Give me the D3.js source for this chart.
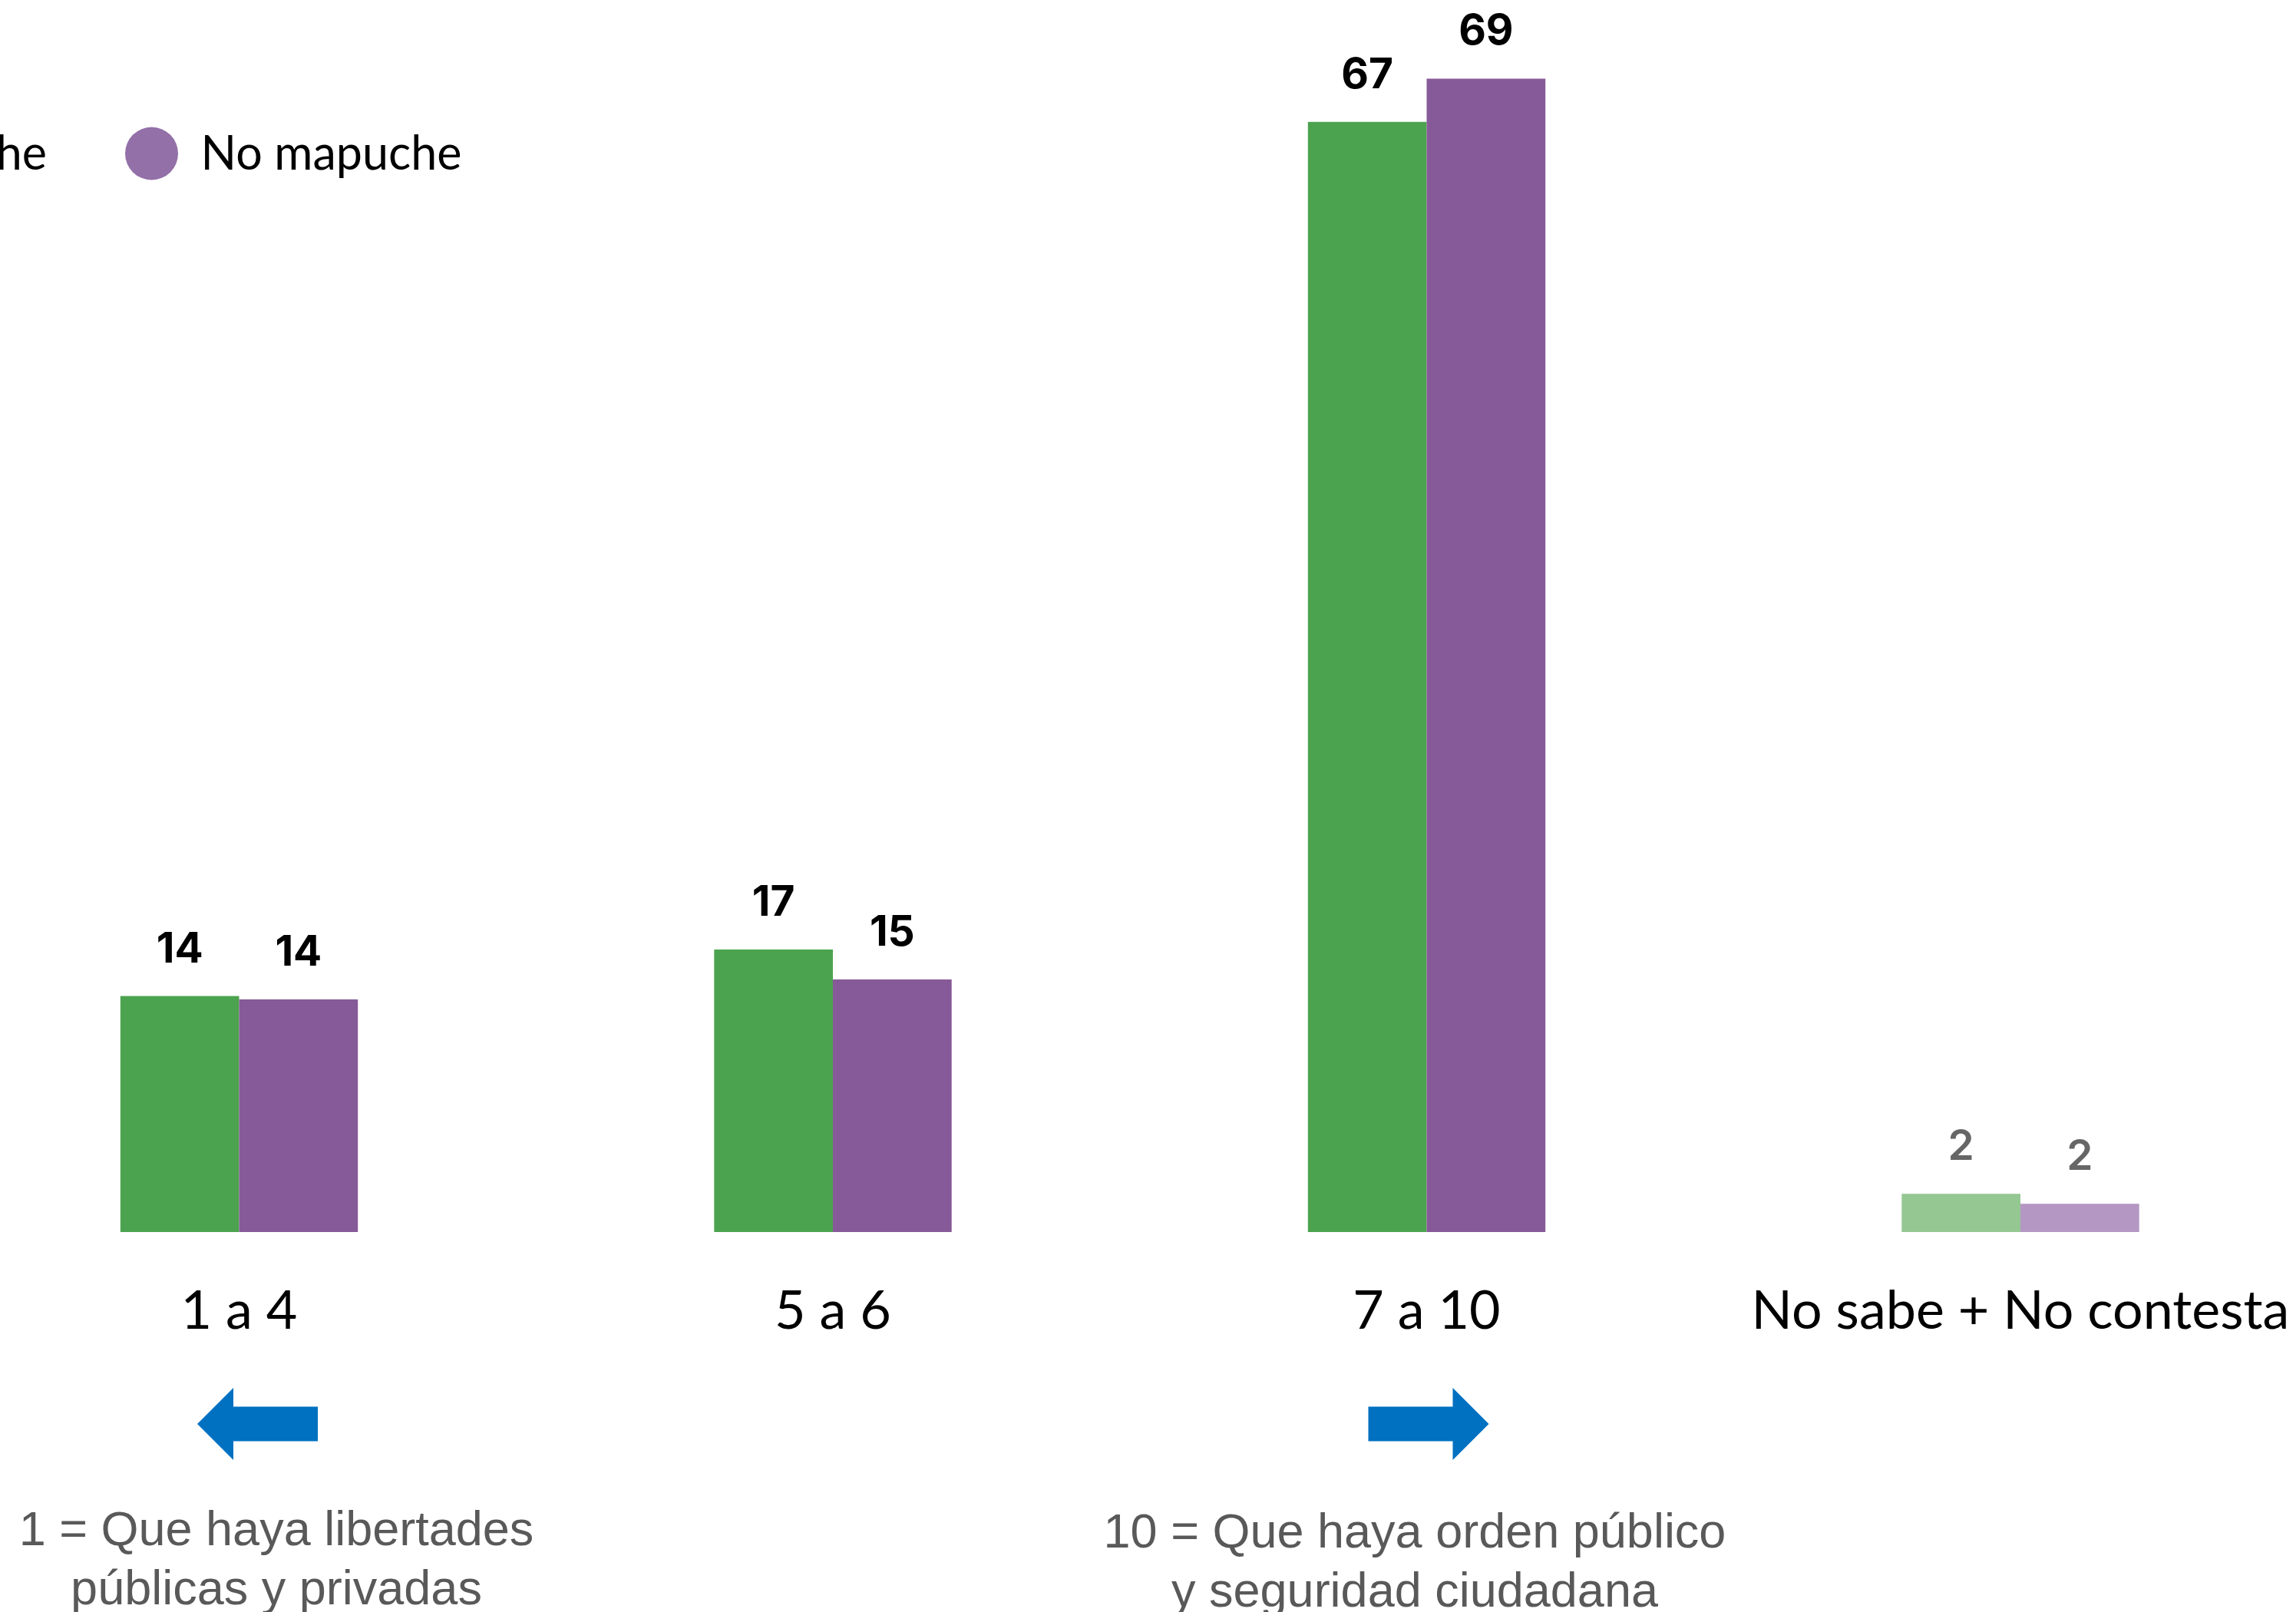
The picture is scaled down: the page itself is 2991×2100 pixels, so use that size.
<!DOCTYPE html>
<html>
<head>
<meta charset="utf-8">
<script src="https://cdn.jsdelivr.net/npm/d3@7"></script>
<style>
  html, body { margin: 0; padding: 0; background: #fff; }
  svg { display: block; }
</style>
</head>
<body>
<svg id="chart" width="2991" height="2100"></svg>
<script>
// ---- data ----
const categories = ["1 a 4", "5 a 6", "7 a 10", "No sabe + No contesta"];
const seriesNames = ["Mapuche", "No mapuche"];
const mapuche   = [14.2, 17.0, 66.8, 2.3];
const noMapuche = [14.0, 15.2, 69.4, 1.7];
const noteLeft  = ["1 = Que haya libertades", "públicas y privadas"];
const noteRight = ["10 = Que haya orden público", "y seguridad ciudadana"];

// ---- styles ----
const colors      = ["#4CA34F", "#865A98"];
const colorsLight = ["#95C793", "#B498C3"];
const legendColors = ["#4CA34F", "#9370A8"];

const svg = d3.select("#chart");
const baseY = 1605;

const x = d3.scaleBand()
  .domain(categories)
  .range([-75.25, 3018.75])
  .paddingInner(0.6)
  .paddingOuter(0.3);

const xs = d3.scaleBand()
  .domain(seriesNames)
  .range([0, x.bandwidth()]);

const y = d3.scaleLinear().domain([0, 70]).range([baseY, 89.5]);

const rows = categories.map((c, i) => ({
  cat: c, idx: i,
  vals: [mapuche[i], noMapuche[i]]
}));

const g = svg.selectAll("g.group").data(rows).join("g")
  .attr("class", "group")
  .attr("transform", d => `translate(${x(d.cat)},0)`);

const isLast = d => d.idx === categories.length - 1;

g.selectAll("rect").data(d => d.vals.map((v, j) => ({v, j, last: isLast(d)})))
  .join("rect")
  .attr("x", d => xs(seriesNames[d.j]))
  .attr("width", xs.bandwidth())
  .attr("y", d => y(d.v))
  .attr("height", d => y(0) - y(d.v))
  .attr("fill", d => d.last ? colorsLight[d.j] : colors[d.j]);

g.selectAll("text.val").data(d => d.vals.map((v, j) => ({v, j, last: isLast(d)})))
  .join("text")
  .attr("class", "val")
  .attr("x", d => xs(seriesNames[d.j]) + xs.bandwidth() / 2)
  .attr("y", d => y(d.v) - 44)
  .attr("text-anchor", "middle")
  .attr("font-family", "Inter, 'Open Sans', sans-serif")
  .attr("font-weight", d => d.last ? 600 : 700)
  .attr("font-size", 55)
  .attr("fill", d => d.last ? "#666666" : "#000000")
  .text(d => d3.format(".0f")(d.v));

// category labels
svg.selectAll("text.cat").data(categories).join("text")
  .attr("class", "cat")
  .attr("x", d => x(d) + x.bandwidth() / 2)
  .attr("y", 1731)
  .attr("text-anchor", "middle")
  .attr("font-family", "Lato, 'Open Sans', sans-serif")
  .attr("font-size", 70)
  .attr("fill", "#000")
  .text(d => d);

// legend
const legendY = 200;
const legFont = "Lato, 'Open Sans', sans-serif";
const leg2 = svg.append("g").attr("transform", `translate(197.5,${legendY})`);
leg2.append("circle").attr("r", 34.5).attr("fill", legendColors[1]);
leg2.append("text").attr("x", 64).attr("y", 21)
  .attr("font-family", legFont).attr("font-size", 61)
  .attr("fill", "#000").text(seriesNames[1]);

const leg1Text = svg.append("text").attr("x", 61).attr("y", legendY + 21)
  .attr("text-anchor", "end")
  .attr("font-family", legFont).attr("font-size", 61)
  .attr("fill", "#000").text(seriesNames[0]);
const tw = leg1Text.node().getComputedTextLength();
svg.append("circle").attr("cx", 61 - tw - 64).attr("cy", legendY)
  .attr("r", 34.5).attr("fill", legendColors[0]);

// arrows
const arrowColor = "#0070C0";
function arrow(cx, cy, dir) {
  const L = 157, hl = 47, hh = 47, sh = 22.5;
  const pts = [
    [-L/2, 0], [-L/2 + hl, -hh], [-L/2 + hl, -sh], [L/2, -sh],
    [L/2, sh], [-L/2 + hl, sh], [-L/2 + hl, hh]
  ].map(([px, py]) => [cx + dir * px, cy + py]);
  svg.append("path").attr("d", d3.line()(pts) + "Z").attr("fill", arrowColor);
}
arrow(335.5, 1855, 1);
arrow(1861, 1855, -1);

// notes
function note(lines, cx, y0) {
  const t = svg.append("text")
    .attr("text-anchor", "middle")
    .attr("font-family", "Liberation Sans, Arial, Helvetica, sans-serif")
    .attr("font-size", 63)
    .attr("fill", "#595959");
  lines.forEach((l, i) => {
    t.append("tspan").attr("x", cx).attr("y", y0 + i * 77).text(l);
  });
}
note(noteLeft, 360, 2013);
note(noteRight, 1843, 2016);
</script>
</body>
</html>
